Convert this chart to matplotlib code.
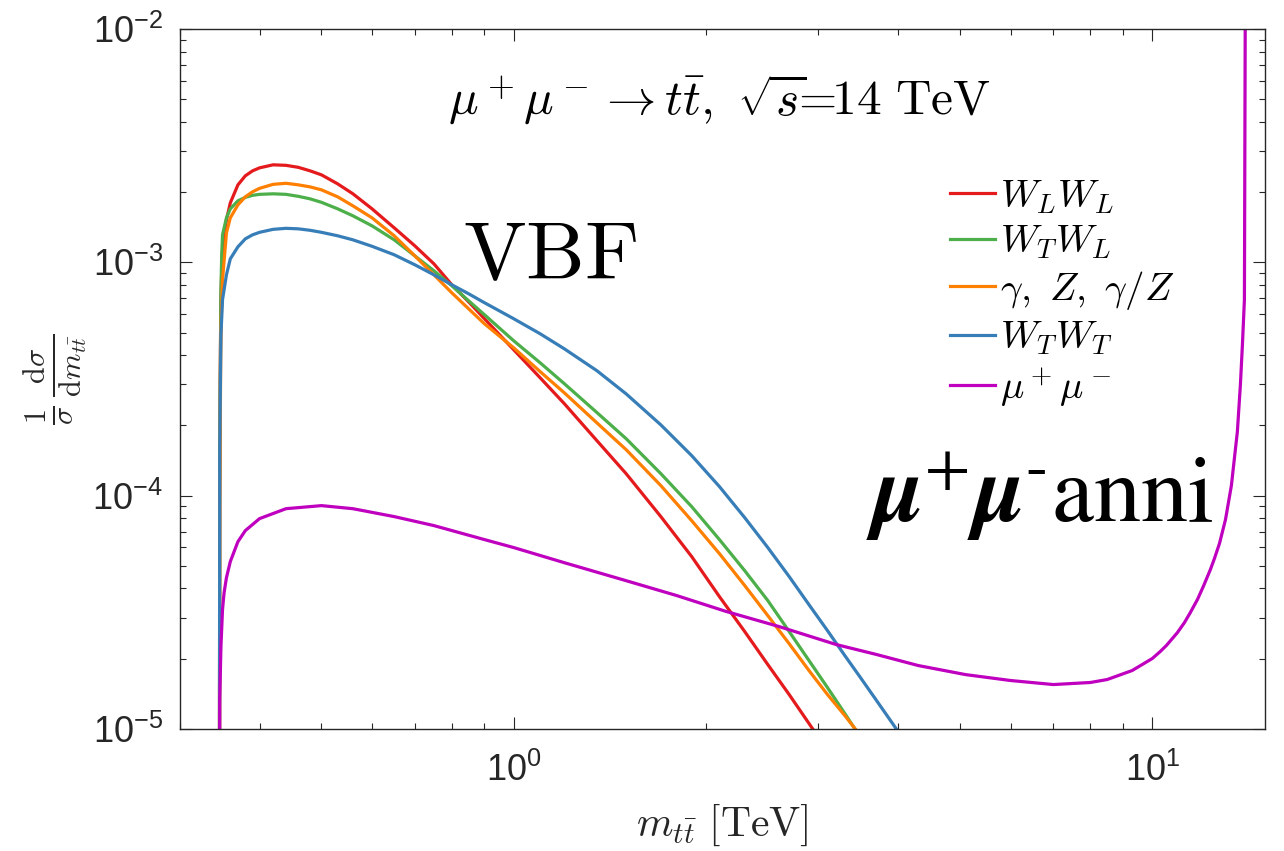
import numpy as np
import matplotlib
matplotlib.use('Agg')
import matplotlib.pyplot as plt
from matplotlib.ticker import FuncFormatter, LogLocator, NullFormatter

plt.rcParams['mathtext.fontset'] = 'cm'
plt.rcParams['font.family'] = ['Liberation Sans', 'DejaVu Sans']

# curve data (m_tt in TeV, 1/sigma dsigma/dm)
x_ll = [0.3460, 0.3465, 0.347, 0.348, 0.349, 0.35, 0.355, 0.36, 0.37, 0.38, 0.39,
        0.40, 0.42, 0.44, 0.46, 0.48, 0.50, 0.53, 0.56, 0.60, 0.65, 0.70, 0.75, 0.80,
        0.85, 0.90, 1.0, 1.1, 1.2, 1.35, 1.5, 1.7, 1.9, 2.1, 2.3, 2.5, 2.7, 2.9, 3.1]
y_ll = [1e-6, 9.6e-5, 3.14e-4, 6.91e-4, 9.11e-4, 1.131e-3, 1.521e-3, 1.798e-3,
        2.147e-3, 2.347e-3, 2.465e-3, 2.539e-3, 2.616e-3, 2.603e-3, 2.552e-3, 2.465e-3,
        2.370e-3, 2.169e-3, 1.966e-3, 1.695e-3, 1.405e-3, 1.177e-3, 9.85e-4, 8.01e-4,
        6.77e-4, 5.73e-4, 4.22e-4, 3.20e-4, 2.48e-4, 1.720e-4, 1.242e-4, 8.13e-5,
        5.48e-5, 3.69e-5, 2.616e-5, 1.888e-5, 1.405e-5, 1.056e-5, 8.09e-6]

x_vbf = [0.3460, 0.3465, 0.348, 0.349, 0.35, 0.355, 0.36, 0.37, 0.38, 0.39, 0.40,
         0.42, 0.44, 0.46, 0.48, 0.50, 0.53, 0.56, 0.60, 0.65, 0.70, 0.75, 0.80, 0.85,
         0.90, 1.0, 1.1, 1.2, 1.35, 1.5, 1.7, 1.9, 2.1, 2.3, 2.5, 2.7, 2.9, 3.1, 3.3,
         3.5, 3.7, 3.9, 4.1]

y_tl = [1e-6, 1.574e-4, 7.62e-4, 1.077e-3, 1.311e-3, 1.551e-3, 1.695e-3, 1.834e-3,
        1.898e-3, 1.936e-3, 1.955e-3, 1.965e-3, 1.955e-3, 1.917e-3, 1.870e-3, 1.807e-3,
        1.695e-3, 1.582e-3, 1.433e-3, 1.248e-3, 1.066e-3, 9.20e-4, 7.93e-4, 6.84e-4,
        5.96e-4, 4.61e-4, 3.71e-4, 3.02e-4, 2.27e-4, 1.754e-4, 1.242e-4, 8.97e-5,
        6.48e-5, 4.77e-5, 3.55e-5, 2.616e-5, 1.965e-5, 1.505e-5, 1.165e-5, 9.11e-6]

y_gz = [1e-6, 9.6e-5, 5.14e-4, 6.58e-4, 8.41e-4, 1.337e-3, 1.551e-3, 1.763e-3,
        1.908e-3, 2.004e-3, 2.074e-3, 2.158e-3, 2.180e-3, 2.147e-3, 2.104e-3, 2.044e-3,
        1.908e-3, 1.746e-3, 1.551e-3, 1.299e-3, 1.066e-3, 8.84e-4, 7.40e-4, 6.32e-4,
        5.45e-4, 4.30e-4, 3.40e-4, 2.76e-4, 2.05e-4, 1.574e-4, 1.104e-4, 7.81e-5,
        5.64e-5, 4.12e-5, 3.06e-5, 2.32e-5, 1.780e-5, 1.405e-5, 1.142e-5, 9.29e-6]

y_tt = [1e-6, 1.574e-4, 4.89e-4, 5.79e-4, 6.91e-4, 8.84e-4, 1.035e-3, 1.165e-3,
        1.260e-3, 1.311e-3, 1.344e-3, 1.384e-3, 1.398e-3, 1.391e-3, 1.371e-3, 1.344e-3,
        1.299e-3, 1.248e-3, 1.171e-3, 1.077e-3, 9.76e-4, 8.84e-4, 8.01e-4, 7.33e-4,
        6.71e-4, 5.73e-4, 4.94e-4, 4.26e-4, 3.43e-4, 2.73e-4, 2.01e-4, 1.484e-4,
        1.093e-4, 8.05e-5, 5.99e-5, 4.50e-5, 3.41e-5, 2.64e-5, 2.064e-5, 1.645e-5,
        1.324e-5, 1.077e-5, 8.84e-6]

x_mm = [0.3460, 0.3465, 0.348, 0.350, 0.352, 0.355, 0.36, 0.37, 0.38, 0.40, 0.44,
        0.50, 0.56, 0.65, 0.75, 0.90, 1.0, 1.2, 1.5, 1.8, 2.15, 2.6, 3.2, 3.7, 4.3,
        5.1, 6.0, 7.0, 8.0, 8.5, 9.3, 10.0, 10.29, 10.52, 10.75, 10.95, 11.23, 11.47,
        11.77, 12.02, 12.33, 12.51, 12.74, 13.02, 13.30, 13.59, 13.74, 13.84, 13.94,
        13.99]
y_mm = [1e-6, 1.337e-5, 2.25e-5, 3.25e-5, 3.84e-5, 4.45e-5, 5.22e-5, 6.35e-5, 7.08e-5,
        7.97e-5, 8.79e-5, 9.06e-5, 8.79e-5, 8.13e-5, 7.44e-5, 6.48e-5, 5.99e-5, 5.16e-5,
        4.32e-5, 3.73e-5, 3.19e-5, 2.75e-5, 2.30e-5, 2.085e-5, 1.870e-5, 1.71e-5,
        1.613e-5, 1.55e-5, 1.582e-5, 1.629e-5, 1.780e-5, 2.004e-5, 2.147e-5, 2.278e-5,
        2.441e-5, 2.590e-5, 2.858e-5, 3.154e-5, 3.59e-5, 4.08e-5, 4.82e-5, 5.37e-5,
        6.23e-5, 7.89e-5, 1.104e-4, 1.879e-4, 2.99e-4, 4.43e-4, 6.91e-4, 2e-2]

labels = [r'$W_LW_L$', r'$W_TW_L$', r'$\gamma,\ Z,\ \gamma/Z$', r'$W_TW_T$', r'$\mu^+\mu^-$']
colors = ['#e41a1c', '#4daf4a', '#ff7f00', '#377eb8', '#bf00bf']

fig = plt.figure(figsize=(12.84, 8.51), dpi=100)
ax = fig.add_axes([0.140, 0.1434, 0.845, 0.8226])

series = [(x_ll, y_ll), (x_vbf[:len(y_tl)], y_tl), (x_vbf[:len(y_gz)], y_gz),
          (x_vbf[:len(y_tt)], y_tt), (x_mm, y_mm)]
for (xs, ys), lab, c in zip(series, labels, colors):
    ax.plot(xs, ys, color=c, lw=2.3, label=lab, solid_joinstyle='round')

ax.set_xscale('log')
ax.set_yscale('log')
ax.set_xlim(0.3, 15)
ax.set_ylim(1e-5, 1e-2)

fmt = FuncFormatter(lambda v, p: r'$\mathregular{10^{%d}}$' % int(round(np.log10(v))))
ax.xaxis.set_major_formatter(fmt)
ax.yaxis.set_major_formatter(fmt)
ax.xaxis.set_minor_formatter(NullFormatter())
ax.yaxis.set_minor_formatter(NullFormatter())
ax.yaxis.set_major_locator(LogLocator(base=10, numticks=10))
ax.yaxis.set_minor_locator(LogLocator(base=10, subs=np.arange(2, 10), numticks=10))

ax.tick_params(which='both', direction='in', top=True, right=True, colors='#262626',
               labelsize=26, width=0.8)
ax.tick_params(which='major', length=8.5, pad=12)
ax.tick_params(which='minor', length=4.3)
ax.tick_params(axis='x', which='major', pad=17)
for s in ax.spines.values():
    s.set_color('#262626')
    s.set_linewidth(1.0)

ax.set_xlabel(r'$m_{t\bar{t}}\ [\mathrm{TeV}]$', fontsize=30, color='#262626', labelpad=10)
ax.set_ylabel(r'$\frac{1}{\sigma}\,\frac{\mathrm{d}\sigma}{\mathrm{d}m_{t\bar{t}}}$',
              fontsize=31, color='#262626', labelpad=2)

ax.text(0.497, 0.899,
        r'$\mu^+\mu^- \rightarrow t\bar{t},\ \sqrt{s}\!\!=\!\!\mathrm{14\ TeV}$',
        transform=ax.transAxes, ha='center', va='center', fontsize=35.5)
ax.text(0.341, 0.674, r'$\mathrm{VBF}$', transform=ax.transAxes, ha='center',
        va='center', fontsize=60)
ax.text(0.793, 0.334, r'$\mathbfit{\mu}^{+}\mathbfit{\mu}^{\text{-}}\mathrm{anni}$',
        transform=ax.transAxes, ha='center', va='center', fontsize=68,
        math_fontfamily='stix')

ax.legend(loc='upper left', bbox_to_anchor=(0.7097, 0.787), frameon=False, fontsize=28,
          handlelength=1.16, handletextpad=0.13, labelspacing=0.2, borderaxespad=0,
          borderpad=0)

fig.savefig('out.png', dpi=100)
